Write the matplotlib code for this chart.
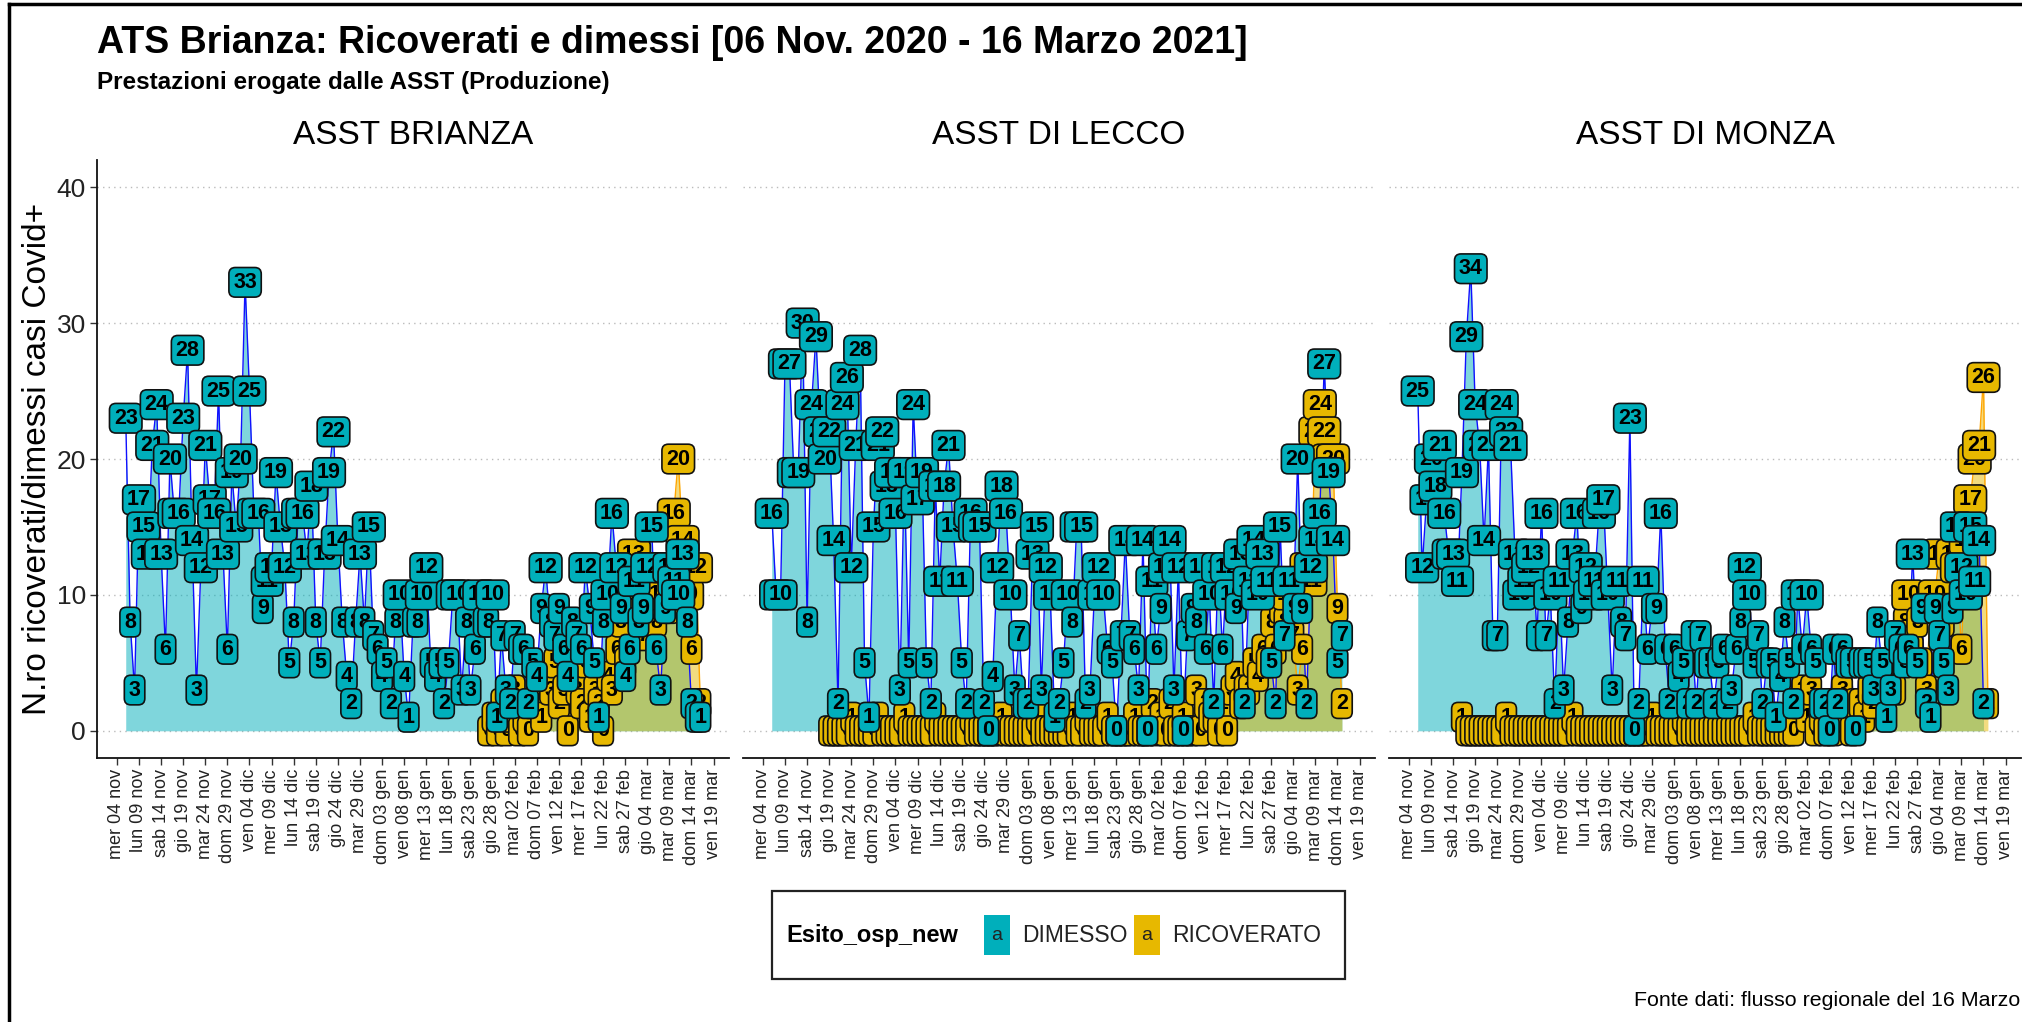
import numpy as np
import pandas as pd
import matplotlib
matplotlib.use("Agg")
import matplotlib.pyplot as plt
import matplotlib.dates as mdates
from matplotlib.patches import Rectangle
from matplotlib.lines import Line2D

plt.rcParams['font.family'] = ['Liberation Sans', 'DejaVu Sans']

nan = np.nan

# ---------------- data ----------------
dates = pd.date_range('2020-11-06', '2021-03-16', freq='D')  # 131 days

panel_names = ['ASST BRIANZA', 'ASST DI LECCO', 'ASST DI MONZA']
series_names = ['DIMESSO', 'RICOVERATO']

brianza_dimesso = [
    23, 8, 3, 17, 15, 13, 21, 24, 13, 6,
    20, 16, 16, 23, 28, 14, 3, 12, 21, 17,
    16, 25, 13, 6, 19, 15, 20, 33, 25, 16,
    16, 9, 11, 12, 19, 15, 12, 5, 8, 16,
    16, 13, 18, 8, 5, 13, 19, 22, 14, 8,
    4, 2, 8, 13, 8, 15, 7, 6, 4, 5,
    2, 8, 10, 4, 1, 8, 8, 10, 12, 5,
    4, 5, 2, 5, 10, 10, 3, 8, 3, 6,
    10, 8, 8, 10, 1, 7, 3, 2, 7, 6,
    6, 2, 5, 4, 9, 12, 8, 7, 9, 6,
    4, 8, 7, 6, 12, 9, 5, 1, 8, 10,
    16, 12, 9, 4, 6, 11, 8, 9, 12, 15,
    6, 3, 9, 12, 11, 10, 13, 8, 2, 1, 1]

brianza_ricoverato = [nan] * 82 + [
    0, 1, 0, 2, 0, 1, 3, 0,
    1, 0, 2, 3, 1, 4, 3, 5, 2, 3,
    0, 4, 3, 2, 5, 1, 3, 2, 0, 4,
    3, 6, 8, 5, 9, 13, 10, 7, 12, 11,
    8, 10, 12, 9, 16, 20, 14, 10, 6, 12, 2]

lecco_dimesso = [
    16, 10, 10, 27, 27, 19, 19, 30, 8, 24,
    29, 22, 20, 22, 14, 2, 24, 26, 12, 21,
    28, 5, 1, 15, 21, 22, 18, 19, 16, 3,
    19, 5, 24, 17, 19, 5, 2, 18, 11, 18,
    21, 15, 11, 5, 2, 16, 15, 15, 2, 0,
    4, 12, 18, 16, 10, 3, 7, 2, 2, 13,
    15, 3, 12, 10, 1, 2, 5, 10, 8, 15,
    15, 2, 3, 10, 12, 10, 6, 5, 0, 7,
    14, 7, 6, 3, 14, 0, 11, 6, 9, 12,
    14, 3, 12, 0, 7, 9, 8, 12, 6, 10,
    2, 12, 6, 12, 10, 9, 13, 2, 11, 14,
    10, 13, 11, 5, 2, 15, 7, 11, 9, 20,
    9, 2, 12, 14, 16, 27, 19, 14, 5, 7, nan]

lecco_ricoverato = [nan] * 13 + [
    0, 0, 0, 0, 0, 1, 0,
    0, 0, 0, 0, 1, 0, 0, 0, 0, 0,
    1, 0, 0, 0, 0, 0, 0, 1, 0, 0,
    0, 0, 0, 0, 0, 1, 0, 0, 0, 0,
    0, 0, 1, 0, 0, 0, 0, 0, 0, 0,
    1, 0, 0, 0, 0, 0, 0, 0, 1, 0,
    0, 1, 0, 0, 0, 0, 1, 0, 0, 0,
    0, 0, 1, 0, 0, 0, 2, 0, 1, 0,
    2, 0, 0, 1, 0, 0, 3, 0, 2, 1,
    1, 0, 2, 0, 3, 4, 2, 3, 3, 5,
    4, 6, 5, 8, 6, 9, 8, 10, 7, 3,
    6, 12, 11, 22, 24, 22, 20, 20, 9, 2, nan]

monza_dimesso = [
    25, 12, 17, 20, 18, 21, 16, 13, 13, 11,
    19, 29, 34, 24, 21, 14, 21, 7, 7, 24,
    22, 21, 13, 10, 11, 12, 13, 7, 16, 7,
    10, 2, 11, 3, 8, 13, 16, 9, 12, 10,
    11, 16, 17, 10, 3, 11, 8, 7, 23, 0,
    2, 11, 6, 9, 9, 16, 6, 2, 6, 4,
    5, 2, 7, 2, 7, 5, 5, 2, 5, 6,
    2, 3, 6, 8, 12, 10, 5, 7, 2, 5,
    5, 1, 4, 8, 5, 2, 10, 6, 10, 6,
    5, 2, 2, 0, 6, 2, 6, 5, 5, 0,
    5, 5, 5, 3, 8, 5, 1, 3, 7, 6,
    5, 6, 13, 5, 9, 2, 1, 9, 7, 5,
    3, 9, 15, 12, 10, 15, 11, 14, 2, nan, nan]

monza_ricoverato = [nan] * 10 + [
    1, 0, 0, 0, 0, 0, 0, 0, 0, 0,
    1, 0, 0, 0, 0, 0, 0, 0, 0, 0,
    0, 0, 0, 0, 0, 1, 0, 0, 0, 0,
    0, 0, 0, 0, 0, 0, 0, 0, 0, 0,
    0, 0, 0, 1, 0, 0, 0, 0, 0, 0,
    1, 0, 0, 0, 0, 0, 0, 0, 0, 0,
    0, 0, 0, 0, 0, 0, 1, 0, 0, 0,
    0, 0, 0, 0, 0, 0, 2, 3, 1, 3,
    0, 1, 0, 2, 0, 1, 3, 1, 0, 2,
    2, 1, 3, 2, 4, 3, 5, 4, 3, 6,
    8, 10, 6, 8, 5, 3, 9, 10, 13, 8,
    9, 13, 12, 6, 14, 17, 20, 21, 26, 2, nan]

tick_labels = ['mer 04 nov', 'lun 09 nov', 'sab 14 nov', 'gio 19 nov', 'mar 24 nov',
               'dom 29 nov', 'ven 04 dic', 'mer 09 dic', 'lun 14 dic', 'sab 19 dic',
               'gio 24 dic', 'mar 29 dic', 'dom 03 gen', 'ven 08 gen', 'mer 13 gen',
               'lun 18 gen', 'sab 23 gen', 'gio 28 gen', 'mar 02 feb', 'dom 07 feb',
               'ven 12 feb', 'mer 17 feb', 'lun 22 feb', 'sab 27 feb', 'gio 04 mar',
               'mar 09 mar', 'dom 14 mar', 'ven 19 mar']
tick_dates = pd.date_range('2020-11-04', periods=len(tick_labels), freq='5D')

y_ticks = [0, 10, 20, 30, 40]

dimesso_all = [brianza_dimesso, lecco_dimesso, monza_dimesso]
ricoverato_all = [brianza_ricoverato, lecco_ricoverato, monza_ricoverato]

# ---------------- style ----------------
TEAL = '#00AFBB'
GOLD = '#E7B800'
W, H = 2022, 1022
fig = plt.figure(figsize=(W / 100, H / 100), dpi=100)
fig.patch.set_facecolor('white')

xnum = mdates.date2num(dates)
tnum = mdates.date2num(tick_dates)
span = xnum[-1] - xnum[0]
xlim = (xnum[0] - 0.05 * span, xnum[-1] + 0.05 * span)

px_day = 4.42
pw = (xlim[1] - xlim[0]) * px_day
lefts = [97, 743, 1389]
top_px, bot_px = 160, 758


def add_labels(ax, x, y, fc, z):
    for xi, yi in zip(x, y):
        if np.isnan(yi):
            continue
        ax.text(xi, yi, f'{int(yi)}', ha='center', va='center',
                fontsize=15.5, fontweight='bold', color='black', zorder=z,
                clip_on=True,
                bbox=dict(boxstyle='round,pad=0.2,rounding_size=0.3',
                          fc=fc, ec='#111111', lw=1.2))


for k, left in enumerate(lefts):
    ax = fig.add_axes([left / W, 1 - bot_px / H, pw / W, (bot_px - top_px) / H])
    d = np.array(dimesso_all[k], dtype=float)
    r = np.array(ricoverato_all[k], dtype=float)

    ax.fill_between(xnum, 0, d, color=TEAL, alpha=0.5, lw=0, zorder=1)
    ax.fill_between(xnum, 0, r, color=GOLD, alpha=0.5, lw=0, zorder=1.1)
    ax.plot(xnum, d, color='#1010FF', lw=1.0, zorder=2)
    ax.plot(xnum, r, color='#FFA500', lw=1.0, zorder=2.1)
    add_labels(ax, xnum, r, GOLD, 3)
    add_labels(ax, xnum, d, TEAL, 4)

    ax.set_xlim(*xlim)
    ax.set_ylim(-2, 42)
    ax.set_yticks(y_ticks)
    ax.yaxis.grid(True, linestyle=(0, (1, 3)), color='#BBBBBB', lw=1.0, zorder=0)
    ax.set_axisbelow(True)
    ax.set_xticks(tnum)
    ax.set_xticklabels(tick_labels, rotation=90, fontsize=13, color='#222222')
    ax.tick_params(axis='x', length=5, width=1, color='#333333', pad=3)
    for s in ['top', 'right']:
        ax.spines[s].set_visible(False)
    ax.spines['bottom'].set_color('#111111')
    ax.spines['bottom'].set_linewidth(1.3)
    if k == 0:
        ax.spines['left'].set_color('#111111')
        ax.spines['left'].set_linewidth(1.3)
        ax.tick_params(axis='y', length=5, width=1, color='#333333',
                       labelsize=19, labelcolor='#222222', pad=3)
    else:
        ax.spines['left'].set_visible(False)
        ax.tick_params(axis='y', length=0, labelleft=False)

    fig.text((left + pw / 2) / W, 1 - 136 / H, panel_names[k], ha='center',
             va='center', fontsize=24, color='black')

# titles
fig.text(97 / W, 1 - 43 / H, 'ATS Brianza: Ricoverati e dimessi [06 Nov. 2020 - 16 Marzo 2021]',
         ha='left', va='center', fontsize=27, fontweight='bold', color='black')
fig.text(97 / W, 1 - 82 / H, 'Prestazioni erogate dalle ASST (Produzione)',
         ha='left', va='center', fontsize=17.5, fontweight='bold', color='black')
fig.text(38 / W, 1 - 459 / H, 'N.ro ricoverati/dimessi casi Covid+', rotation=90,
         ha='center', va='center', fontsize=24, color='black')

# legend (manual, ggplot style)
lx0, lx1, ly0, ly1 = 772, 1345, 891, 979
fig.patches.append(Rectangle((lx0 / W, 1 - ly1 / H), (lx1 - lx0) / W, (ly1 - ly0) / H,
                             transform=fig.transFigure, fill=False, ec='#222222', lw=1.6))
lyc = 1 - 935 / H
fig.text(786 / W, lyc, 'Esito_osp_new', ha='left', va='center', fontsize=17,
         fontweight='bold', color='black')
for (kx0, kx1, fc, name, tx) in [(984, 1010, TEAL, series_names[0], 1022),
                                 (1134, 1160, GOLD, series_names[1], 1172)]:
    fig.patches.append(Rectangle((kx0 / W, 1 - 955 / H), (kx1 - kx0) / W, 40 / H,
                                 transform=fig.transFigure, fc=fc, ec='none'))
    fig.text((kx0 + kx1) / 2 / W, lyc, 'a', ha='center', va='center', fontsize=14,
             color='#222222')
    fig.text(tx / W, lyc, name, ha='left', va='center', fontsize=16.5, color='#222222')

fig.text(2020 / W, 1 - 1000 / H, 'Fonte dati: flusso regionale del 16 Marzo',
         ha='right', va='center', fontsize=15.4, color='black')

# outer frame lines
fig.add_artist(Line2D([9 / W, 9 / W], [0, 1 - 4 / H], transform=fig.transFigure,
                      color='black', lw=2.5))
fig.add_artist(Line2D([9 / W, 1], [1 - 4 / H, 1 - 4 / H], transform=fig.transFigure,
                      color='black', lw=2.5))

fig.savefig('out.png', dpi=100, facecolor='white')
